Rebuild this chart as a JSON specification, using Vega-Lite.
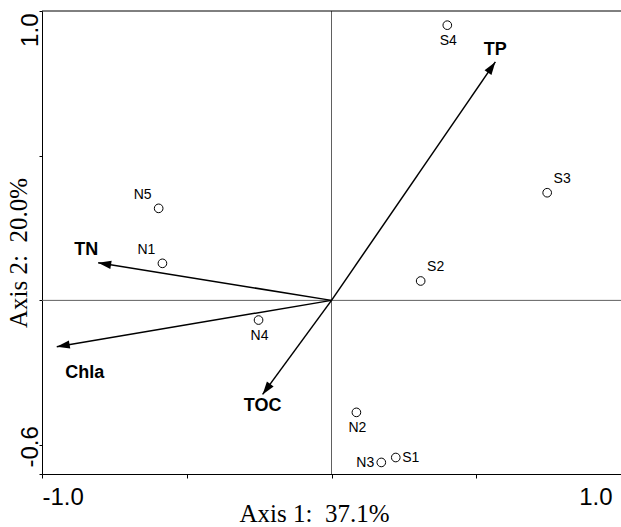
{
  "$schema": "https://vega.github.io/schema/vega-lite/v6.json",
  "width": 579,
  "height": 463,
  "autosize": {"type": "none"},
  "padding": {"left": 42, "top": 11, "right": 0, "bottom": 53},
  "background": "white",
  "config": {
    "view": {"stroke": null},
    "axis": {
      "grid": false,
      "domainColor": "black",
      "domainWidth": 1,
      "tickColor": "black",
      "labelColor": "black",
      "titleColor": "black",
      "labelFont": "Liberation Sans",
      "labelFontSize": 24,
      "titleFont": "Liberation Serif",
      "titleFontSize": 25,
      "titleFontWeight": "normal",
      "labelOverlap": false,
      "labelFlush": false
    }
  },
  "datasets": {
    "sites": [
      {"site": "S4", "ax1": 0.400, "ax2": 0.951, "side": "below"},
      {"site": "S3", "ax1": 0.745, "ax2": 0.372, "side": "upright"},
      {"site": "S2", "ax1": 0.308, "ax2": 0.067, "side": "upright"},
      {"site": "N5", "ax1": -0.597, "ax2": 0.318, "side": "upleft"},
      {"site": "N1", "ax1": -0.584, "ax2": 0.128, "side": "upleft"},
      {"site": "N4", "ax1": -0.252, "ax2": -0.068, "side": "below"},
      {"site": "N2", "ax1": 0.086, "ax2": -0.387, "side": "below"},
      {"site": "N3", "ax1": 0.172, "ax2": -0.560, "side": "left"},
      {"site": "S1", "ax1": 0.222, "ax2": -0.543, "side": "right"}
    ],
    "vars": [
      {"variable": "TP", "ax1": 0.566, "ax2": 0.824, "side": "above"},
      {"variable": "TN", "ax1": -0.806, "ax2": 0.130, "side": "upleft"},
      {"variable": "Chla", "ax1": -0.949, "ax2": -0.160, "side": "belowright"},
      {"variable": "TOC", "ax1": -0.238, "ax2": -0.325, "side": "below"}
    ]
  },
  "layer": [
    {
      "data": {"values": [{}]},
      "mark": {"type": "rule", "color": "#606060", "strokeWidth": 1},
      "encoding": {
        "x": {
          "datum": 0,
          "type": "quantitative",
          "scale": {"domain": [-1, 1], "nice": false, "zero": false},
          "axis": {
            "values": [-1, -0.5, 0, 0.5, 1],
            "labelExpr": "datum.value == -1 ? '-1.0' : (datum.value == 1 ? '1.0' : '')",
            "labelAlign": {"condition": {"test": "datum.value < 0", "value": "left"}, "value": "right"},
            "labelOffset": {"condition": {"test": "datum.value < 0", "value": 0}, "value": -9},
            "labelBaseline": "alphabetic",
            "labelPadding": 26,
            "tickSize": 4,
            "title": "Axis 1:\u00a0 37.1%",
            "titleX": 272,
            "titleY": 47.7,
            "titleBaseline": "alphabetic",
            "titleAlign": "center"
          }
        }
      }
    },
    {
      "data": {"values": [{}]},
      "mark": {"type": "rule", "color": "#606060", "strokeWidth": 1},
      "encoding": {
        "y": {
          "datum": 0,
          "type": "quantitative",
          "scale": {"domain": [-0.6, 1], "nice": false, "zero": false},
          "axis": {
            "values": [-0.6, -0.5, 0, 0.5, 1],
            "labelExpr": "datum.value == 1 ? '1.0' : (datum.value == -0.6 ? '-0.6' : '')",
            "labelAngle": -90,
            "labelAlign": {"condition": {"test": "datum.value > 0", "value": "right"}, "value": "left"},
            "labelOffset": {"condition": {"test": "datum.value > 0", "value": 2}, "value": -7},
            "labelBaseline": "alphabetic",
            "labelPadding": 1.5,
            "tickSize": 3,
            "title": "Axis 2:\u00a0 20.0%",
            "titleAngle": -90,
            "titleX": -15.3,
            "titleY": 241.5,
            "titleBaseline": "alphabetic",
            "titleAlign": "center"
          }
        }
      }
    },
    {
      "data": {"values": [{}]},
      "mark": {"type": "rule", "color": "black", "strokeWidth": 1},
      "encoding": {
        "y": {"datum": 1, "type": "quantitative", "title": "Axis 2:\u00a0 20.0%"}
      }
    },
    {
      "data": {"name": "vars"},
      "mark": {"type": "rule", "color": "black", "strokeWidth": 1.5},
      "encoding": {
        "x": {"field": "ax1", "type": "quantitative", "title": "Axis 1:\u00a0 37.1%"},
        "y": {"field": "ax2", "type": "quantitative", "title": "Axis 2:\u00a0 20.0%"},
        "x2": {"datum": 0},
        "y2": {"datum": 0}
      }
    },
    {
      "data": {"name": "vars"},
      "mark": {
        "type": "point",
        "shape": "M0,0L-0.32,1L0.32,1Z",
        "filled": true,
        "color": "black",
        "opacity": 1,
        "size": 676,
        "angle": {"expr": "atan2(datum.ax1, datum.ax2) * 180 / PI"}
      },
      "encoding": {
        "x": {"field": "ax1", "type": "quantitative", "title": "Axis 1:\u00a0 37.1%"},
        "y": {"field": "ax2", "type": "quantitative", "title": "Axis 2:\u00a0 20.0%"}
      }
    },
    {
      "data": {"name": "sites"},
      "mark": {"type": "point", "shape": "circle", "filled": true, "fill": "white", "stroke": "black", "strokeWidth": 1, "size": 75, "opacity": 1},
      "encoding": {
        "x": {"field": "ax1", "type": "quantitative", "title": "Axis 1:\u00a0 37.1%"},
        "y": {"field": "ax2", "type": "quantitative", "title": "Axis 2:\u00a0 20.0%"}
      }
    },
    {
      "data": {"name": "sites"},
      "transform": [{"filter": "datum.side == 'below'"}],
      "mark": {"type": "text", "font": "Liberation Sans", "fontSize": 14, "color": "black", "align": "center", "baseline": "middle", "dx": 1, "dy": 16},
      "encoding": {
        "x": {"field": "ax1", "type": "quantitative", "title": "Axis 1:\u00a0 37.1%"},
        "y": {"field": "ax2", "type": "quantitative", "title": "Axis 2:\u00a0 20.0%"},
        "text": {"field": "site"}
      }
    },
    {
      "data": {"name": "sites"},
      "transform": [{"filter": "datum.side == 'upright'"}],
      "mark": {"type": "text", "font": "Liberation Sans", "fontSize": 14, "color": "black", "align": "center", "baseline": "middle", "dx": 15, "dy": -14},
      "encoding": {
        "x": {"field": "ax1", "type": "quantitative", "title": "Axis 1:\u00a0 37.1%"},
        "y": {"field": "ax2", "type": "quantitative", "title": "Axis 2:\u00a0 20.0%"},
        "text": {"field": "site"}
      }
    },
    {
      "data": {"name": "sites"},
      "transform": [{"filter": "datum.side == 'upleft'"}],
      "mark": {"type": "text", "font": "Liberation Sans", "fontSize": 14, "color": "black", "align": "center", "baseline": "middle", "dx": -16, "dy": -13.5},
      "encoding": {
        "x": {"field": "ax1", "type": "quantitative", "title": "Axis 1:\u00a0 37.1%"},
        "y": {"field": "ax2", "type": "quantitative", "title": "Axis 2:\u00a0 20.0%"},
        "text": {"field": "site"}
      }
    },
    {
      "data": {"name": "sites"},
      "transform": [{"filter": "datum.side == 'left'"}],
      "mark": {"type": "text", "font": "Liberation Sans", "fontSize": 14, "color": "black", "align": "center", "baseline": "middle", "dx": -16, "dy": 1},
      "encoding": {
        "x": {"field": "ax1", "type": "quantitative", "title": "Axis 1:\u00a0 37.1%"},
        "y": {"field": "ax2", "type": "quantitative", "title": "Axis 2:\u00a0 20.0%"},
        "text": {"field": "site"}
      }
    },
    {
      "data": {"name": "sites"},
      "transform": [{"filter": "datum.side == 'right'"}],
      "mark": {"type": "text", "font": "Liberation Sans", "fontSize": 14, "color": "black", "align": "center", "baseline": "middle", "dx": 15, "dy": 0},
      "encoding": {
        "x": {"field": "ax1", "type": "quantitative", "title": "Axis 1:\u00a0 37.1%"},
        "y": {"field": "ax2", "type": "quantitative", "title": "Axis 2:\u00a0 20.0%"},
        "text": {"field": "site"}
      }
    },
    {
      "data": {"name": "vars"},
      "transform": [{"filter": "datum.side == 'above'"}],
      "mark": {"type": "text", "font": "Liberation Sans", "fontSize": 18, "fontWeight": "bold", "color": "black", "align": "center", "baseline": "middle", "dx": 0, "dy": -12},
      "encoding": {
        "x": {"field": "ax1", "type": "quantitative", "title": "Axis 1:\u00a0 37.1%"},
        "y": {"field": "ax2", "type": "quantitative", "title": "Axis 2:\u00a0 20.0%"},
        "text": {"field": "variable"}
      }
    },
    {
      "data": {"name": "vars"},
      "transform": [{"filter": "datum.side == 'upleft'"}],
      "mark": {"type": "text", "font": "Liberation Sans", "fontSize": 18, "fontWeight": "bold", "color": "black", "align": "center", "baseline": "middle", "dx": -12, "dy": -13},
      "encoding": {
        "x": {"field": "ax1", "type": "quantitative", "title": "Axis 1:\u00a0 37.1%"},
        "y": {"field": "ax2", "type": "quantitative", "title": "Axis 2:\u00a0 20.0%"},
        "text": {"field": "variable"}
      }
    },
    {
      "data": {"name": "vars"},
      "transform": [{"filter": "datum.side == 'belowright'"}],
      "mark": {"type": "text", "font": "Liberation Sans", "fontSize": 18, "fontWeight": "bold", "color": "black", "align": "center", "baseline": "middle", "dx": 28, "dy": 26},
      "encoding": {
        "x": {"field": "ax1", "type": "quantitative", "title": "Axis 1:\u00a0 37.1%"},
        "y": {"field": "ax2", "type": "quantitative", "title": "Axis 2:\u00a0 20.0%"},
        "text": {"field": "variable"}
      }
    },
    {
      "data": {"name": "vars"},
      "transform": [{"filter": "datum.side == 'below'"}],
      "mark": {"type": "text", "font": "Liberation Sans", "fontSize": 18, "fontWeight": "bold", "color": "black", "align": "center", "baseline": "middle", "dx": 0, "dy": 12},
      "encoding": {
        "x": {"field": "ax1", "type": "quantitative", "title": "Axis 1:\u00a0 37.1%"},
        "y": {"field": "ax2", "type": "quantitative", "title": "Axis 2:\u00a0 20.0%"},
        "text": {"field": "variable"}
      }
    }
  ]
}
